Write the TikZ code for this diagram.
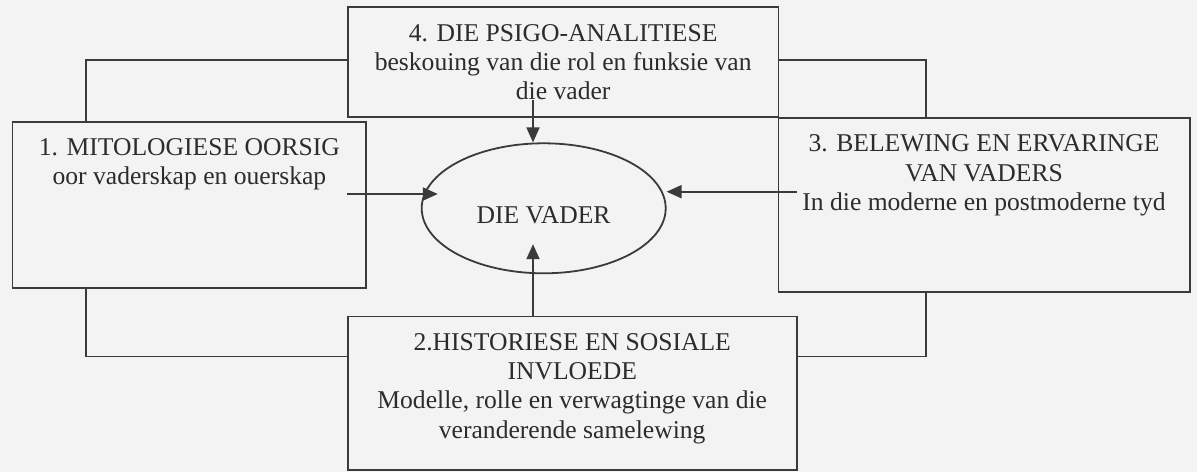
\documentclass[tikz,border=0pt]{standalone}
\usepackage{fontspec}
\setmainfont{Liberation Serif}
\usetikzlibrary{arrows.meta,shapes.geometric,calc}
\definecolor{pagebg}{HTML}{F3F3F3}
\definecolor{inkline}{HTML}{3A3A3A}
\definecolor{inktext}{HTML}{2C2C2C}
\begin{document}
\begin{tikzpicture}[x=1pt,y=-1pt,
  framebox/.style={draw=inkline, line width=1.8pt, fill=pagebg, rectangle, inner sep=0pt},
  vaderell/.style={draw=inkline, line width=1.8pt, fill=pagebg, ellipse, inner sep=0pt},
  txt/.style={anchor=base, inner sep=0pt, text=inktext, font=\fontsize{25.6pt}{29pt}\selectfont},
  arr/.style={draw=inkline, line width=1.8pt, -{Triangle[length=15pt,width=13pt]}}]
\fill[pagebg] (0,0) rectangle (1197,472);
\useasboundingbox (0,0) rectangle (1197,472);

% back frame
\node[framebox, minimum width=839.7pt, minimum height=296.5pt] (back) at (505.85,208.25) {};

% four boxes
\node[framebox, minimum width=353.8pt, minimum height=166pt] (b1) at (189.4,205) {};
\node[framebox, minimum width=430.5pt, minimum height=109.6pt] (b4) at (563.25,62.1) {};
\node[framebox, minimum width=411.5pt, minimum height=174.1pt] (b3) at (984.25,204.65) {};
\node[framebox, minimum width=449pt, minimum height=153.5pt] (b2) at (572.2,393.25) {};

% centre ellipse
\node[vaderell, minimum width=244pt, minimum height=130pt] (vader) at (543.7,208.3) {};
\node[txt] (vadertxt) at (543.5,223.3) {DIE VADER};

% texts of box 4
\node[txt] (t4a) at (563.2,41.7) {4. DIE PSIGO-ANALITIESE};
\node[txt] (t4b) at (563.2,70.3) {beskouing van die rol en funksie van};
\node[txt] (t4c) at (563.2,99.3) {die vader};

% texts of box 1
\node[txt] (t1a) at (189.4,155) {1. MITOLOGIESE OORSIG};
\node[txt] (t1b) at (189.4,184) {oor vaderskap en ouerskap};

% texts of box 3
\node[txt] (t3a) at (984,151.7) {3. BELEWING EN ERVARINGE};
\node[txt] (t3b) at (984,181) {VAN VADERS};
\node[txt] (t3c) at (984,210) {In die moderne en postmoderne tyd};

% texts of box 2
\node[txt] (t2a) at (572.2,350) {2.HISTORIESE EN SOSIALE};
\node[txt] (t2b) at (572.2,379.5) {INVLOEDE};
\node[txt] (t2c) at (572.2,408.5) {Modelle, rolle en verwagtinge van die};
\node[txt] (t2d) at (572.2,438) {veranderende samelewing};

% connector start points
\coordinate (s4) at (533,100);
\coordinate (s1) at (347,194);
\coordinate (s3) at (796.7,191.7);
\coordinate (s2) at (533,316.5);

% connectors
\draw[arr] (s4) -- (s4 |- vader.north);
\draw[arr] (s1) -- ($(vader.west |- s1)+(17,0)$);
\draw[arr] (s3) -- (vader.east |- s3);
\draw[arr] (s2) -- ($(s2 |- vader.south)+(0,-30)$);
\end{tikzpicture}
\end{document}
